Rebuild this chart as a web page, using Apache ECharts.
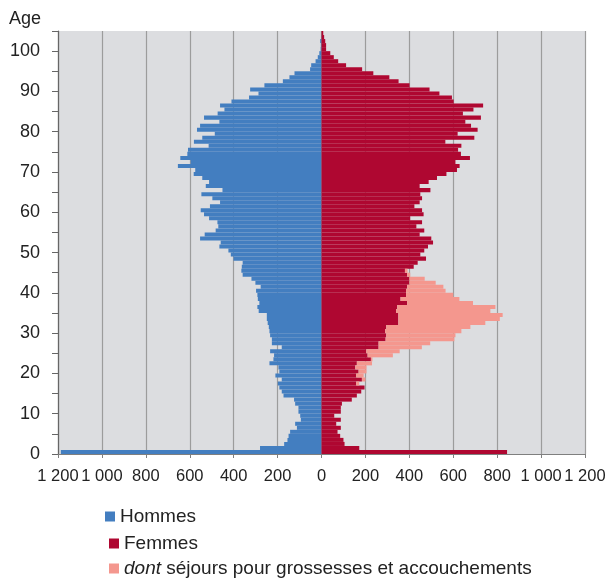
<!DOCTYPE html>
<html>
<head>
<meta charset="utf-8">
<script src="https://cdn.jsdelivr.net/npm/echarts@6/dist/echarts.min.js"></script>
<style>
html,body{margin:0;padding:0;background:#fff;}
#chart{width:611px;height:578px;}
</style>
</head>
<body>
<div id="chart"></div>
<script>
// Ages 0 .. 104 (one bar per age)
var ages = Array.from({length: 105}, function (_, i) { return String(i); });

// Hommes (age 0 .. 104)
var hommes = [1187,280,170,155,150,143,112,120,94,97,
  105,105,120,125,173,181,192,199,181,210,
  192,196,237,219,216,234,181,226,226,234,
  237,240,245,249,249,286,292,283,290,292,
  298,277,301,319,359,365,363,359,401,413,
  424,465,459,553,532,482,470,474,512,535,
  550,508,462,497,547,451,527,512,543,582,
  575,654,596,643,611,608,514,581,543,486,
  567,553,465,535,473,442,462,410,330,287,
  325,260,176,146,123,52,47,27,17,10,
  4,3,6,1,0];

// Femmes, hors séjours pour grossesses (age 0 .. 104)
var femmes = [845,172,105,100,85,73,88,67,88,58,
  88,88,93,138,161,181,196,158,184,158,
  169,154,161,225,210,204,260,260,292,295,
  290,295,350,350,350,340,345,390,360,385,
  385,390,400,400,390,380,420,438,476,450,
  468,485,508,500,447,468,432,458,404,465,
  458,423,447,458,450,496,447,488,526,569,
  617,629,610,676,635,622,637,564,696,620,
  711,681,655,726,644,692,736,602,594,537,
  492,401,351,309,236,185,112,76,56,40,
  21,21,17,12,8];

// dont séjours pour grossesses et accouchements (age 0 .. 104)
var grossesses = [0,0,0,0,0,0,0,0,0,0,
  0,0,0,0,0,0,0,14,16,34,
  36,51,69,7,115,152,197,235,313,315,
  347,383,396,462,475,429,447,300,268,215,
  180,165,120,70,14,12,0,0,0,0,
  0,0,0,0,0,0,0,0,0,0,
  0,0,0,0,0,0,0,0,0,0,
  0,0,0,0,0,0,0,0,0,0,
  0,0,0,0,0,0,0,0,0,0,
  0,0,0,0,0,0,0,0,0,0,
  0,0,0,0,0];

var xTicks = { min: -1200, max: 1200, interval: 200 };
var ageTicks = { min: 0, max: 105, interval: 5 };

var FONT = "'Liberation Sans', Arial, sans-serif";
var BLUE = '#437ec0', RED = '#af0731', PINK = '#f4978e';
var NAME_H = 'Hommes', NAME_F = 'Femmes', NAME_G = 'dont séjours pour grossesses et accouchements';

function fmtThousands(v) {
  return String(Math.abs(v)).replace(/\B(?=(\d{3})+(?!\d))/g, ' ');
}

var legendText = { fontFamily: FONT, fontSize: 19, color: '#222' };

var chart = echarts.init(document.getElementById('chart'), null, {renderer: 'canvas'});
chart.setOption({
  animation: false,
  backgroundColor: '#ffffff',
  textStyle: { fontFamily: FONT },
  title: {
    text: 'Age', left: 9, top: 10, padding: 0,
    textStyle: { fontFamily: FONT, fontSize: 18, fontWeight: 'normal', color: '#222' }
  },
  grid: {
    left: 58, right: 26, top: 31, bottom: 124,
    show: true, backgroundColor: '#dcdde0', borderWidth: 0
  },
  legend: [
    {
      data: [NAME_H], orient: 'vertical', left: 105, top: 507, padding: 0,
      itemWidth: 10, itemHeight: 10, icon: 'rect', itemGap: 0,
      textStyle: legendText
    },
    {
      data: [NAME_F], orient: 'vertical', left: 109, top: 534, padding: 0,
      itemWidth: 10, itemHeight: 10, icon: 'rect', itemGap: 0,
      textStyle: legendText
    },
    {
      data: [NAME_G], orient: 'vertical', left: 109, top: 559, padding: 0,
      itemWidth: 10, itemHeight: 10, icon: 'rect', itemGap: 0,
      formatter: function () { return '{i|dont} séjours pour grossesses et accouchements'; },
      textStyle: {
        fontFamily: FONT, fontSize: 19, color: '#222',
        rich: { i: { fontFamily: FONT, fontSize: 19, fontStyle: 'italic', color: '#222' } }
      }
    }
  ],
  xAxis: {
    type: 'value', min: xTicks.min, max: xTicks.max, interval: xTicks.interval,
    axisLine: { show: true, onZero: false, lineStyle: { color: '#7f7f7f', width: 1 } },
    axisTick: { show: true, length: 4, lineStyle: { color: '#7f7f7f' } },
    axisLabel: {
      fontFamily: FONT, fontSize: 16.5, color: '#222', margin: 14,
      showMinLabel: true, showMaxLabel: true, hideOverlap: false,
      formatter: fmtThousands
    },
    splitLine: { show: true, lineStyle: { color: '#9c9c9c', width: 1.2 } }
  },
  yAxis: [
    {
      type: 'category', data: ages, show: false, boundaryGap: true
    },
    {
      type: 'value', position: 'left', min: ageTicks.min, max: ageTicks.max, interval: ageTicks.interval,
      axisLine: { show: true, lineStyle: { color: '#666', width: 1.2 } },
      axisTick: { show: true, length: 6, lineStyle: { color: '#666' } },
      axisLabel: {
        fontFamily: FONT, fontSize: 18, color: '#222', margin: 18,
        formatter: function (v) { return v % 10 === 0 ? String(v) : ''; }
      },
      splitLine: { show: false }
    }
  ],
  series: [
    {
      name: NAME_H, type: 'bar', yAxisIndex: 0,
      data: hommes.map(function (v) { return -v; }),
      itemStyle: { color: BLUE },
      barCategoryGap: '0%', barGap: '-100%'
    },
    {
      name: NAME_F, type: 'bar', yAxisIndex: 0, stack: 'f',
      data: femmes,
      itemStyle: { color: RED },
      barCategoryGap: '0%', barGap: '-100%'
    },
    {
      name: NAME_G, type: 'bar', yAxisIndex: 0, stack: 'f',
      data: grossesses,
      itemStyle: { color: PINK },
      barCategoryGap: '0%', barGap: '-100%'
    }
  ]
});
</script>
</body>
</html>
